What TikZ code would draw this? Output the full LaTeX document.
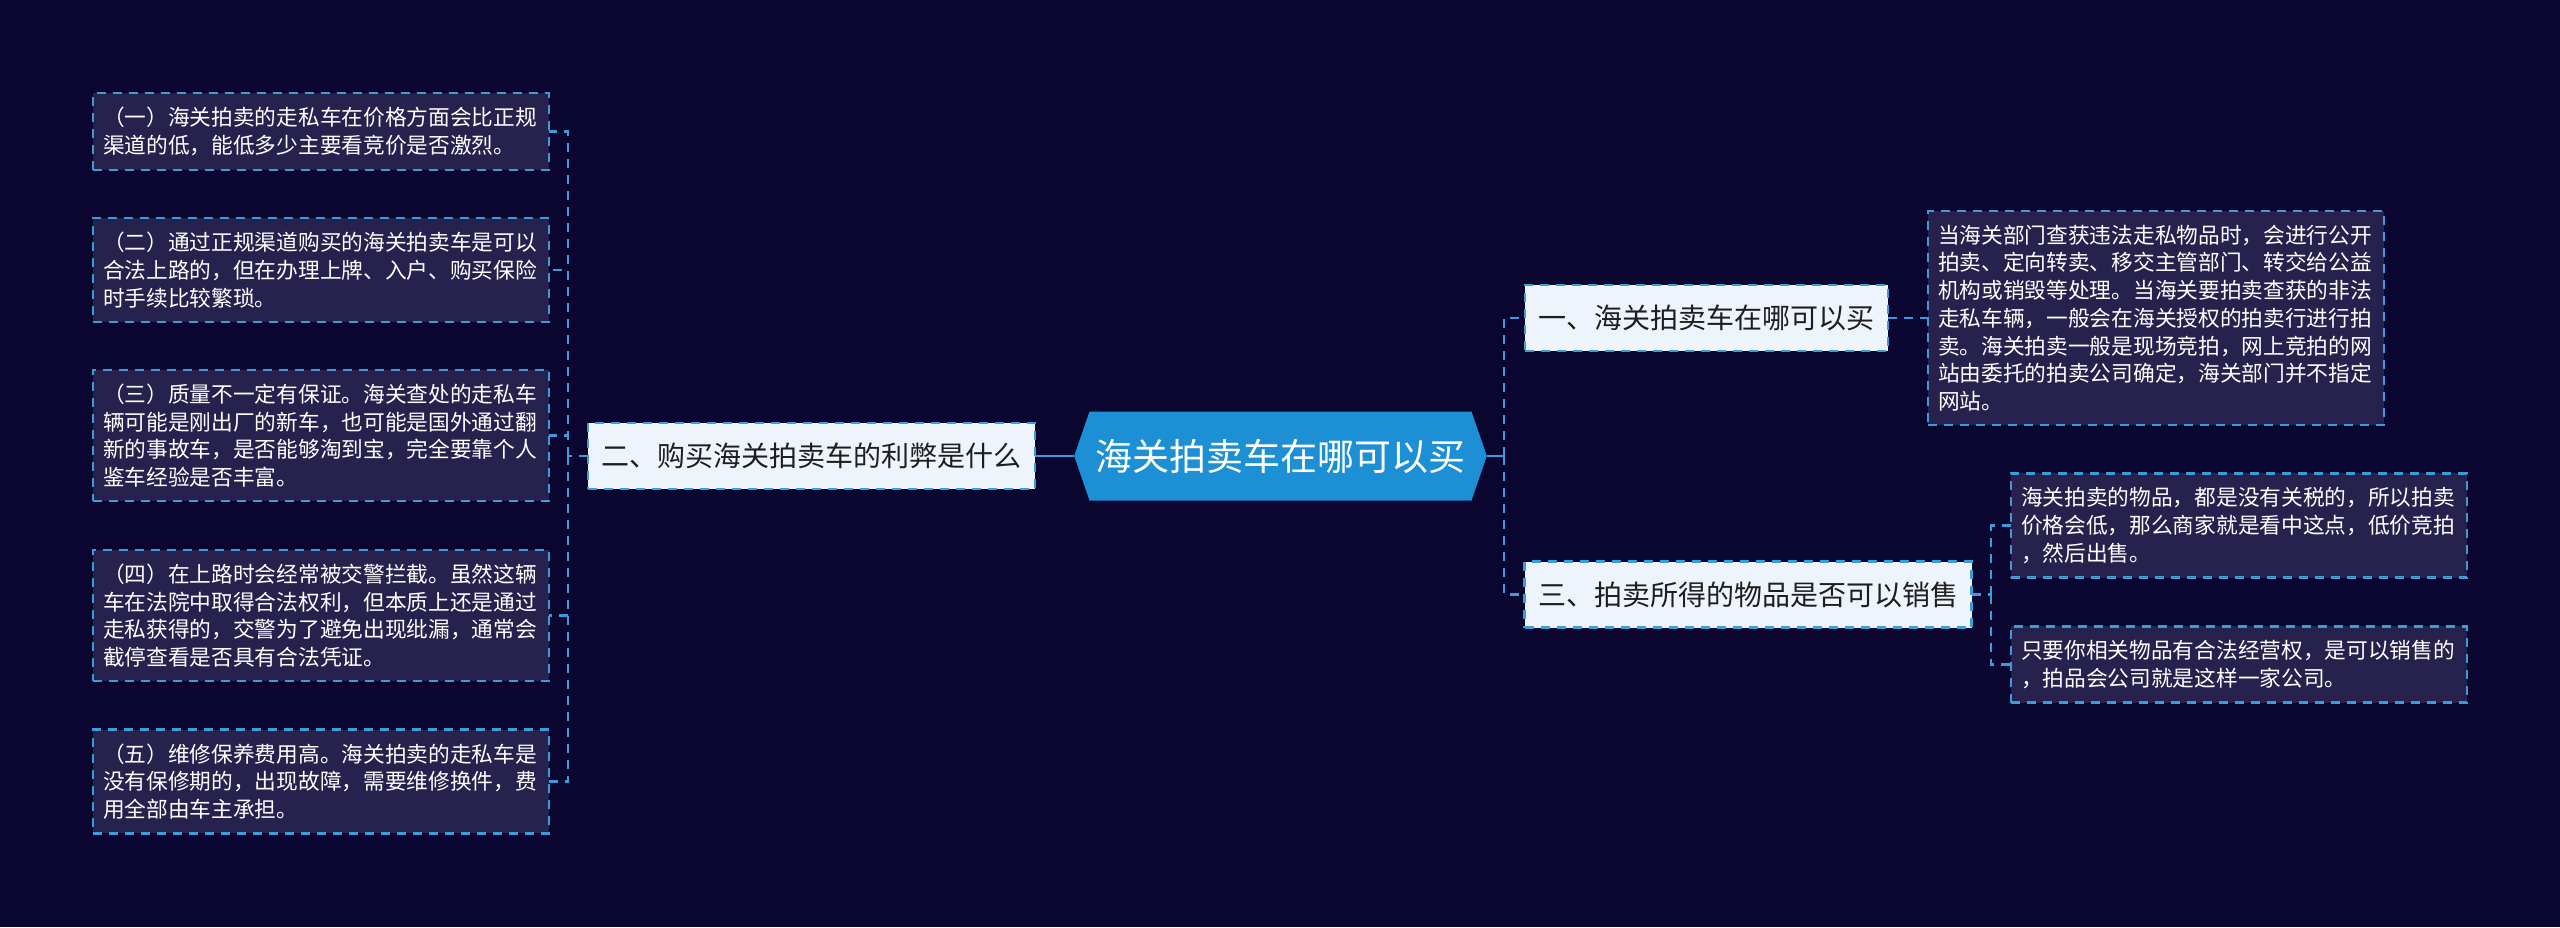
\documentclass[tikz,border=0pt]{standalone}
\usepackage{fontspec}
\setmainfont{Noto Sans CJK SC}
\usepackage{tikz}
\definecolor{bgnavy}{HTML}{0B0630}
\definecolor{leafnavy}{HTML}{26224D}
\definecolor{linkblue}{HTML}{3B9BDB}
\definecolor{branchwhite}{HTML}{EEF4FC}
\definecolor{rootblue}{HTML}{1C8FD5}
\definecolor{branchtext}{HTML}{1E1E1E}
\usetikzlibrary{shapes.symbols}

\begin{document}
\begin{tikzpicture}[x=0.5pt,y=-0.5pt]
                    \tikzstyle{every node}=[inner sep=0pt, outer sep=0pt]
                    \tikzstyle{leaf} = [rectangle, draw=linkblue, fill=leafnavy, line width=1.2pt, dash pattern=on 4.5pt off 3.5pt, text=white, align=left, text width=218pt, inner xsep=5pt, inner ysep=7pt, font=\fontsize{10.85}{13.85}\selectfont]
                    \tikzstyle{branch} = [rectangle, draw=linkblue, fill=branchwhite, line width=1.2pt, dash pattern=on 4.5pt off 3.5pt, text=branchtext, minimum height=33pt, inner xsep=6.75pt, font=\fontsize{14}{16}\selectfont]
                    \tikzstyle{rootnode} = [signal, signal to=east and west, signal pointer angle=142, fill=rootblue, text=white, minimum height=44.5pt, inner xsep=3pt, font=\fontsize{18.5}{22}\selectfont]
                    \tikzstyle{link} = [draw=linkblue, line width=1.3pt, dash pattern=on 4.5pt off 3.5pt]
                    \tikzstyle{rootlink} = [draw=linkblue, line width=1.3pt]

                    \useasboundingbox[fill=bgnavy] (0,0) rectangle (2560,927);

                    \node[rootnode](root) at (1280.5,456) {海关拍卖车在哪可以买};

                    \node[branch](b1) at (1706.5,318) {一、海关拍卖车在哪可以买};
                    \node[branch](b2) at (811.5,456) {二、购买海关拍卖车的利弊是什么};
                    \node[branch](b3) at (1748,594.5) {三、拍卖所得的物品是否可以销售};

                    \node[leaf](l1) at (321,131.5) {（一）海关拍卖的走私车在价格方面会比正规\\渠道的低，能低多少主要看竞价是否激烈。};
                    \node[leaf](l2) at (321,270) {（二）通过正规渠道购买的海关拍卖车是可以\\合法上路的，但在办理上牌、入户、购买保险\\时手续比较繁琐。};
                    \node[leaf](l3) at (321,435.5) {（三）质量不一定有保证。海关查处的走私车\\辆可能是刚出厂的新车，也可能是国外通过翻\\新的事故车，是否能够淘到宝，完全要靠个人\\鉴车经验是否丰富。};
                    \node[leaf](l4) at (321,615.5) {（四）在上路时会经常被交警拦截。虽然这辆\\车在法院中取得合法权利，但本质上还是通过\\走私获得的，交警为了避免出现纰漏，通常会\\截停查看是否具有合法凭证。};
                    \node[leaf](l5) at (321,781.5) {（五）维修保养费用高。海关拍卖的走私车是\\没有保修期的，出现故障，需要维修换件，费\\用全部由车主承担。};

                    \node[leaf](r1) at (2156,318) {当海关部门查获违法走私物品时，会进行公开\\拍卖、定向转卖、移交主管部门、转交给公益\\机构或销毁等处理。当海关要拍卖查获的非法\\走私车辆，一般会在海关授权的拍卖行进行拍\\卖。海关拍卖一般是现场竞拍，网上竞拍的网\\站由委托的拍卖公司确定，海关部门并不指定\\网站。};
                    \node[leaf](r2) at (2239,525.5) {海关拍卖的物品，都是没有关税的，所以拍卖\\价格会低，那么商家就是看中这点，低价竞拍\\，然后出售。};
                    \node[leaf](r3) at (2239,664.5) {只要你相关物品有合法经营权，是可以销售的\\，拍品会公司就是这样一家公司。};

                    \coordinate (lj) at (568,456);
                    \coordinate (rj) at (1504,456);
                    \coordinate (tj) at (1991,594.5);

                    \draw[rootlink] (root.west) -- (b2.east);
                    \draw[rootlink] (root.east) -- (rj);
                    \draw[link] (b2.west) -- (lj);
                    \foreach \n in {l1,l2,l3,l4,l5} \draw[link] (lj) |- (\n.east);
                    \foreach \n in {b1,b3} \draw[link] (rj) |- (\n.west);
                    \draw[link] (b1.east) -- (r1.west);
                    \draw[link] (b3.east) -- (tj);
                    \foreach \n in {r2,r3} \draw[link] (tj) |- (\n.west);
\end{tikzpicture}
\end{document}
